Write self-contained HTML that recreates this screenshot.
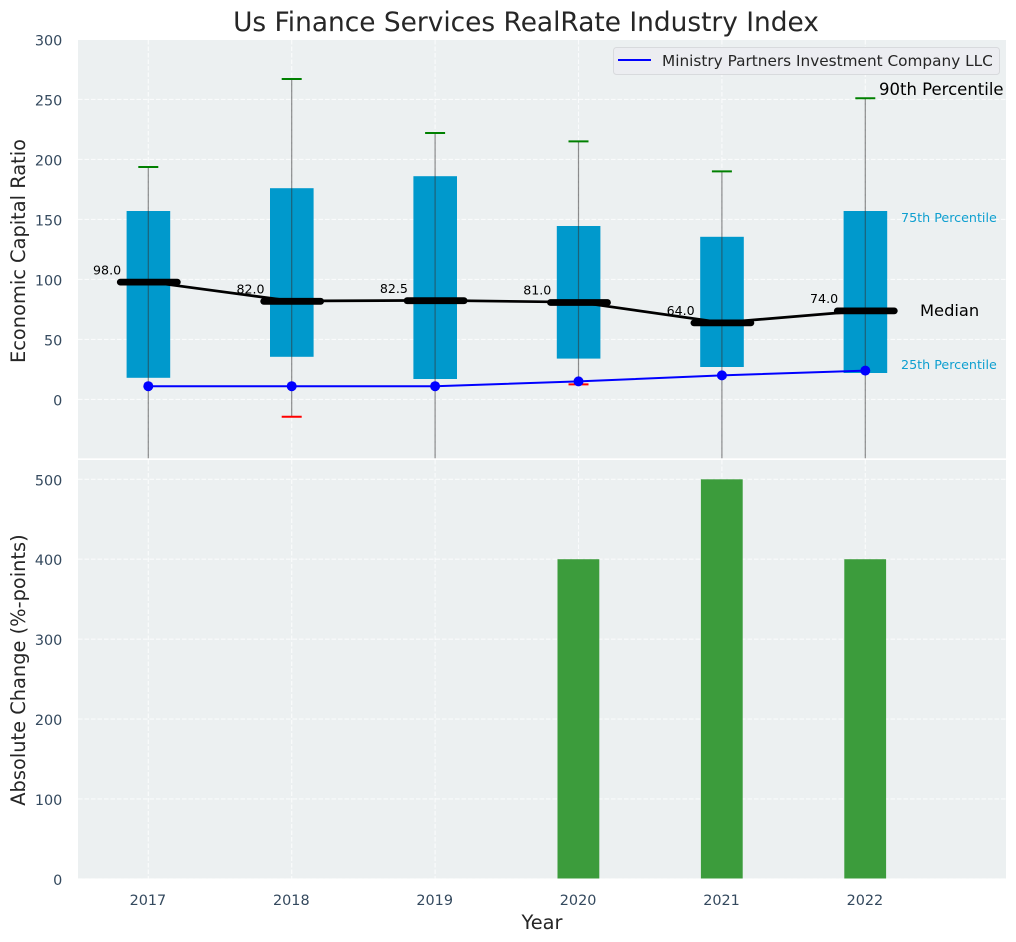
<!DOCTYPE html>
<html>
<head>
<meta charset="utf-8">
<title>Us Finance Services RealRate Industry Index</title>
<style>
html,body{margin:0;padding:0;background:#fff;}
svg{display:block;font-family:"DejaVu Sans","Liberation Sans",sans-serif;}
</style>
</head>
<body>
<svg id="chart" width="1016" height="942" viewBox="0 0 1016 942" xmlns="http://www.w3.org/2000/svg">
  <rect x="78" y="40" width="928" height="418.3" fill="#ecf0f1"/>
  <rect x="78" y="460" width="928" height="418.5" fill="#ecf0f1"/>
  <g id="grid"></g>
  <g id="bars"></g>
  <g id="changes"></g>
  <g id="whiskers"></g>
  <g id="medians"></g>
  <g id="company"></g>
  <g id="ticks" fill="#34495e" font-size="14.4"></g>
  <text x="526" y="31" text-anchor="middle" font-size="26.4" fill="#262626">Us Finance Services RealRate Industry Index</text>
  <text transform="translate(25,251) rotate(-90)" text-anchor="middle" font-size="19.4" fill="#262626">Economic Capital Ratio</text>
  <text transform="translate(25,670) rotate(-90)" text-anchor="middle" font-size="19.4" fill="#262626">Absolute Change (%-points)</text>
  <text x="542" y="929" text-anchor="middle" font-size="19.4" fill="#262626">Year</text>
  <g>
    <rect x="613.5" y="47.5" width="386" height="27" rx="3" fill="#ecedf1" stroke="#d8dadd" stroke-width="1"/>
    <line x1="618" y1="60" x2="651" y2="60" stroke="#0000ff" stroke-width="2"/>
    <text x="662" y="66" font-size="15.3" fill="#262626">Ministry Partners Investment Company LLC</text>
  </g>
  <text x="879" y="95" font-size="16.5" fill="#000">90th Percentile</text>
  <text x="901" y="222" font-size="12.7" fill="#0e9fd0">75th Percentile</text>
  <text x="920" y="316" font-size="16.3" fill="#000">Median</text>
  <text x="901" y="369" font-size="12.7" fill="#0e9fd0">25th Percentile</text>
</svg>
<script>
var years = [2017, 2018, 2019, 2020, 2021, 2022];
var p90Values = [193.7, 267, 222, 215, 190, 251];
var p75Values = [157, 176, 186, 144.5, 135.5, 157];
var medianValues = [98, 82, 82.5, 81, 64, 74];
var p25Values = [18, 35.5, 17, 34, 27, 22];
var p10Values = [-60, -14.5, -60, 12.5, -60, -60];
var companyValues = [11, 11, 11, 15, 20, 24];
var changeValues = [0, 0, 0, 400, 500, 400];
var topTickLabels = [0, 50, 100, 150, 200, 250, 300];
var bottomTickLabels = [0, 100, 200, 300, 400, 500];

var SVGNS = 'http://www.w3.org/2000/svg';
var TOP_CLIP = -49;
function xPos(year) { return 148.3 + (year - 2017) * 143.4; }
function yTop(v) { return 399.4 - v * 1.2; }
function yBottom(v) { return 878.9 - v * 0.7992; }
function make(tag, parent, attrs) {
  var el = document.createElementNS(SVGNS, tag);
  for (var k in attrs) { el.setAttribute(k, attrs[k]); }
  parent.appendChild(el);
  return el;
}
var gridG = document.getElementById('grid');
var barsG = document.getElementById('bars');
var changesG = document.getElementById('changes');
var whiskersG = document.getElementById('whiskers');
var mediansG = document.getElementById('medians');
var companyG = document.getElementById('company');
var ticksG = document.getElementById('ticks');
var gridStyle = {stroke: '#ffffff', 'stroke-width': 1.1, 'stroke-dasharray': '4.5 2', 'stroke-opacity': 0.75};

function gridLine(x1, y1, x2, y2) {
  var attrs = {x1: x1, y1: y1, x2: x2, y2: y2};
  for (var k in gridStyle) { attrs[k] = gridStyle[k]; }
  var el = make('line', gridG, attrs);
  
  
}

topTickLabels.forEach(function (t) {
  var y = yTop(t);
  gridLine(78, y, 1006, y);
  var label = make('text', ticksG, {x: 62.3, y: y + 6, 'text-anchor': 'end'});
  label.textContent = t;
  
  
});
bottomTickLabels.forEach(function (t) {
  var y = yBottom(t);
  gridLine(78, y, 1006, y);
  var label = make('text', ticksG, {x: 62.3, y: y + 6, 'text-anchor': 'end'});
  label.textContent = t;
  
  
});

years.forEach(function (year, i) {
  var x = xPos(year);
  gridLine(x, 40, x, 458);
  gridLine(x, 460, x, 878.5);

  var label = make('text', ticksG, {x: x - 0.4, y: 905, 'text-anchor': 'middle'});
  label.textContent = year;
  
  

  var box = make('rect', barsG, {
    x: x - 21.7, y: yTop(p75Values[i]), width: 43.6,
    height: yTop(p25Values[i]) - yTop(p75Values[i]), fill: '#0099cc'
  });
  
  

  if (changeValues[i] > 0) {
    var bar = make('rect', changesG, {
      x: x - 21, y: yBottom(changeValues[i]), width: 41.8,
      height: 878.5 - yBottom(changeValues[i]), fill: '#3c9c3c'
    });
    
    
  }

  var low = Math.max(p10Values[i], TOP_CLIP);
  var whisker = make('line', whiskersG, {
    x1: x, y1: yTop(p90Values[i]), x2: x, y2: yTop(low),
    stroke: '#333333', 'stroke-opacity': 0.55, 'stroke-width': 1.2
  });
  
  

  var capHigh = make('line', whiskersG, {
    x1: x - 10, y1: yTop(p90Values[i]), x2: x + 10, y2: yTop(p90Values[i]),
    stroke: '#008000', 'stroke-width': 2
  });
  
  

  if (p10Values[i] > TOP_CLIP) {
    var capLow = make('line', whiskersG, {
      x1: x - 10, y1: yTop(p10Values[i]), x2: x + 10, y2: yTop(p10Values[i]),
      stroke: '#ff0000', 'stroke-width': 2
    });
    
    
  }
});

var medianPts = years.map(function (year, i) { return xPos(year) + ',' + yTop(medianValues[i]); }).join(' ');
var medianLine = make('polyline', mediansG, {points: medianPts, fill: 'none', stroke: '#000', 'stroke-width': 2.7});



years.forEach(function (year, i) {
  var x = xPos(year);
  var y = yTop(medianValues[i]);
  var dash = make('line', mediansG, {
    x1: x - 28, y1: y + 0.3, x2: x + 29, y2: y + 0.3,
    stroke: '#000', 'stroke-width': 6.8, 'stroke-linecap': 'round'
  });
  
  
  var text = make('text', mediansG, {
    x: x - 27.2, y: y - 7.5, 'text-anchor': 'end', 'font-size': 12.6, fill: '#000'
  });
  text.textContent = medianValues[i].toFixed(1);
  
  
});

var companyPts = years.map(function (year, i) { return xPos(year) + ',' + yTop(companyValues[i]); }).join(' ');
var companyLine = make('polyline', companyG, {points: companyPts, fill: 'none', stroke: '#0000ff', 'stroke-width': 2});


years.forEach(function (year, i) {
  var dot = make('circle', companyG, {cx: xPos(year), cy: yTop(companyValues[i]), r: 5, fill: '#0000ff'});
  
  
});
</script>
</body>
</html>
